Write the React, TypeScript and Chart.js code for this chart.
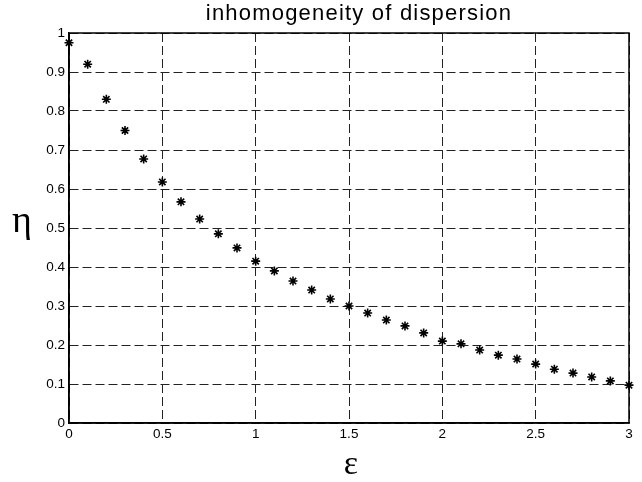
import React, { useEffect, useRef } from "react";
import { Chart, registerables } from "chart.js";

Chart.register(...registerables);

const epsilon: number[] = [0, 0.1, 0.2, 0.3, 0.4, 0.5, 0.6, 0.7, 0.8, 0.9, 1.0, 1.1, 1.2, 1.3, 1.4, 1.5, 1.6, 1.7, 1.8, 1.9, 2.0, 2.1, 2.2, 2.3, 2.4, 2.5, 2.6, 2.7, 2.8, 2.9, 3.0];
const eta: number[] = [0.975, 0.92, 0.83, 0.75, 0.677, 0.618, 0.567, 0.523, 0.485, 0.449, 0.415, 0.39, 0.364, 0.341, 0.318, 0.3, 0.282, 0.264, 0.249, 0.231, 0.21, 0.203, 0.187, 0.174, 0.164, 0.151, 0.138, 0.128, 0.118, 0.108, 0.097];

const titleText = "inhomogeneity of dispersion";
const xLabel = "ε";
const yLabel = "η";

const labelsPlugin = {
  id: "labelsFrame",
  afterDraw(chart: any) {
    const { ctx, chartArea } = chart;
    const cx = (chartArea.left + chartArea.right) / 2;
    const cy = (chartArea.top + chartArea.bottom) / 2;
    ctx.save();
    ctx.strokeStyle = "#000";
    ctx.lineWidth = 1.5;
    ctx.setLineDash([]);
    ctx.strokeRect(chartArea.left, chartArea.top, chartArea.right - chartArea.left, chartArea.bottom - chartArea.top);
    ctx.fillStyle = "#000";
    ctx.textAlign = "center";
    // title
    ctx.textBaseline = "alphabetic";
    ctx.font = '22px "Liberation Sans"';
    try { (ctx as any).letterSpacing = "1.2px"; } catch (e) {}
    ctx.fillText(titleText, cx + 10, chartArea.top - 13);
    try { (ctx as any).letterSpacing = "0px"; } catch (e) {}
    // y label
    ctx.textBaseline = "middle";
    ctx.font = '38px "Liberation Serif"';
    ctx.fillText(yLabel, chartArea.left - 47, cy - 6);
    // x label
    ctx.font = '34px "Liberation Serif"';
    ctx.fillText(xLabel, cx + 2, chartArea.bottom + 42);
    ctx.restore();
  },
};

export default function App() {
  const ref = useRef<HTMLCanvasElement>(null);
  useEffect(() => {
    document.body.style.margin = "0";
    const chart = new Chart(ref.current!, {
      type: "scatter",
      data: {
        datasets: [
          {
            data: epsilon.map((x, i) => ({ x, y: eta[i] })),
            pointStyle: "star",
            pointRadius: 4.5,
            borderColor: "#000",
            backgroundColor: "#000",
            borderWidth: 1.6,
            clip: false as any,
          },
        ],
      },
      options: {
        responsive: false,
        animation: false,
        layout: { padding: { left: 0, right: 13, top: 33, bottom: 0 } },
        plugins: {
          legend: { display: false },
          tooltip: { enabled: false },
          title: { display: false },
        },
        scales: {
          x: {
            type: "linear",
            min: 0,
            max: 3,
            afterFit: (s: any) => { s.height = 59; },
            ticks: {
              stepSize: 0.5,
              color: "#000",
              font: { family: "Liberation Sans", size: 13.5 },
              padding: 3,
              callback: (v: any) => String(Number(Number(v).toFixed(2))),
            },
            grid: { color: "#222", lineWidth: 1, drawTicks: false },
            border: { display: true, color: "#000", width: 1.5, dash: [9, 4] },
          },
          y: {
            type: "linear",
            min: 0,
            max: 1,
            afterFit: (s: any) => { s.width = 69; },
            ticks: {
              stepSize: 0.1,
              color: "#000",
              font: { family: "Liberation Sans", size: 13.5 },
              padding: 4,
              callback: (v: any) => String(Number(Number(v).toFixed(2))),
            },
            grid: { color: "#222", lineWidth: 1, drawTicks: false },
            border: { display: true, color: "#000", width: 1.5, dash: [9, 4] },
          },
        },
      },
      plugins: [labelsPlugin],
    });
    return () => chart.destroy();
  }, []);
  return (
    <div style={{ width: 642, height: 482, background: "#fff" }}>
      <canvas ref={ref} width={642} height={482} />
    </div>
  );
}
